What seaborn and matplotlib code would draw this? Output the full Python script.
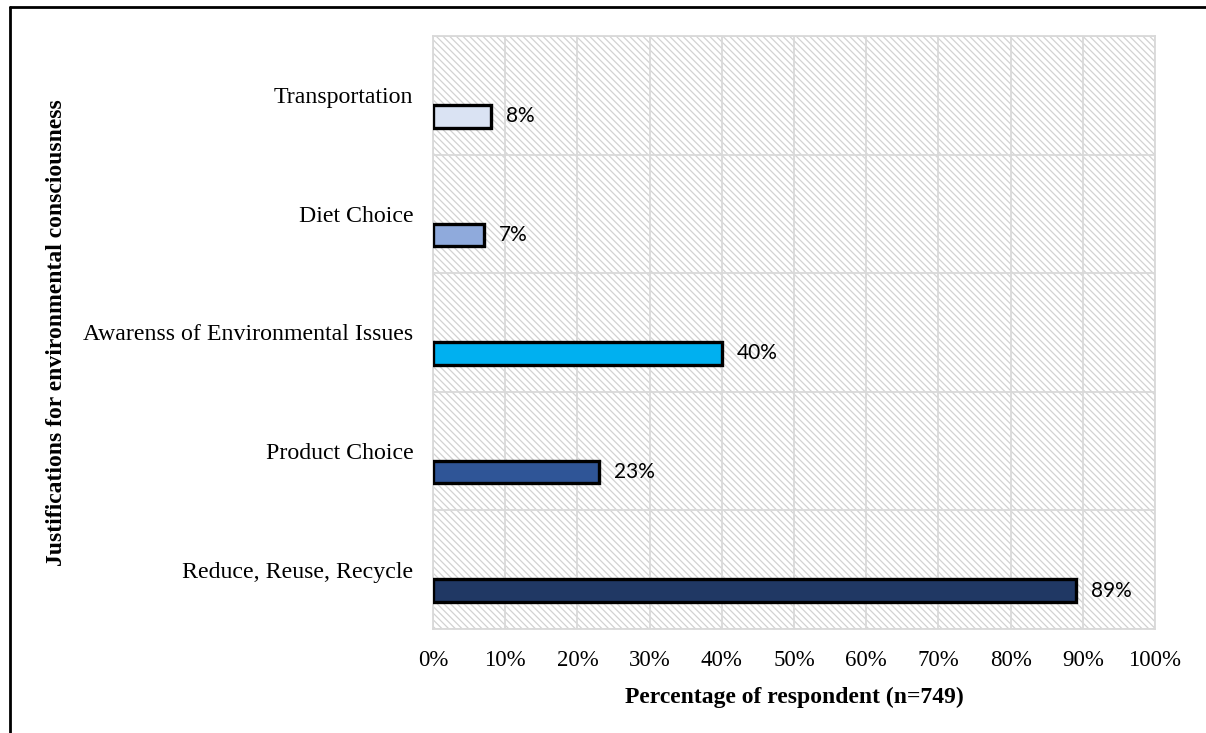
import matplotlib
matplotlib.use("Agg")
import matplotlib.pyplot as plt
import seaborn as sns
import pandas as pd
from matplotlib import patches, lines
from matplotlib.ticker import MultipleLocator, FixedLocator, PercentFormatter

categories = ['Transportation', 'Diet Choice', 'Awarenss of Environmental Issues',
              'Product Choice', 'Reduce, Reuse, Recycle']
values = [8, 7, 40, 23, 89]
colors = ['#DAE3F3', '#8FAADC', '#00B0F0', '#2F5597', '#203864']

df = pd.DataFrame({'category': categories, 'pct': values})

sns.set_style('white')
plt.rcParams['font.family'] = ['Liberation Serif', 'DejaVu Serif']
plt.rcParams['text.color'] = 'black'
plt.rcParams['axes.labelcolor'] = 'black'
plt.rcParams['xtick.color'] = 'black'
plt.rcParams['ytick.color'] = 'black'
plt.rcParams['hatch.color'] = '#D2D2D2'
plt.rcParams['hatch.linewidth'] = 0.9

fig = plt.figure(figsize=(12.06, 7.33), dpi=100)
ax = fig.add_axes([433 / 1206, 1 - 629 / 733, 722 / 1206, 593 / 733])

# hatched plot background
ax.add_patch(patches.Rectangle((0, 0), 1, 1, transform=ax.transAxes, facecolor='white',
                               edgecolor='#D2D2D2', hatch='\\\\\\\\\\', lw=0, zorder=0.1))

sns.barplot(data=df, x='pct', y='category', hue='category', palette=colors,
            saturation=1, orient='h', width=0.19, edgecolor='black', linewidth=2.4,
            legend=False, ax=ax, zorder=3)

# bars sit in the lower part of each band
for p in ax.patches[1:]:
    p.set_y(p.get_y() + 0.177)

ax.set_xlim(0, 100)
ax.set_ylim(4.5, -0.5)
ax.xaxis.set_major_locator(MultipleLocator(10))
ax.xaxis.set_major_formatter(PercentFormatter(decimals=0))
ax.yaxis.set_minor_locator(FixedLocator([i - 0.5 for i in range(6)]))

ax.set_axisbelow(True)
ax.grid(axis='x', which='major', color='#D9D9D9', lw=1.3, zorder=0.5)
ax.grid(axis='y', which='minor', color='#D9D9D9', lw=1.3, zorder=0.5)
for s in ax.spines.values():
    s.set_color('#D9D9D9')
    s.set_linewidth(1.3)

ax.tick_params(axis='x', length=0, pad=15, labelsize=16.5, labelcolor='black')
ax.tick_params(axis='y', which='major', length=0, pad=14, labelsize=17.2, labelcolor='black')
ax.tick_params(axis='y', which='minor', length=5, color='#D9D9D9', width=1.3)

for c in ax.containers:
    ax.bar_label(c, labels=[f'{int(v)}%' for v in c.datavalues], padding=11,
                 fontsize=15, family='Lato', color='black')

ax.set_xlabel('Percentage of respondent (n=749)', fontsize=17, fontweight='bold')
ax.set_ylabel('Justifications for environmental consciousness', fontsize=17,
              fontweight='bold', va='center')
ax.xaxis.set_label_coords(0.5, -0.097)
ax.yaxis.set_label_coords(-0.522, 0.5)

# outer frame (top and left only)
fig.add_artist(lines.Line2D([10 / 1206, 1], [1 - 7 / 733, 1 - 7 / 733],
                            transform=fig.transFigure, color='black', lw=2))
fig.add_artist(lines.Line2D([10 / 1206, 10 / 1206], [0, 1 - 7 / 733],
                            transform=fig.transFigure, color='black', lw=2))

fig.savefig('out.png', dpi=100)
